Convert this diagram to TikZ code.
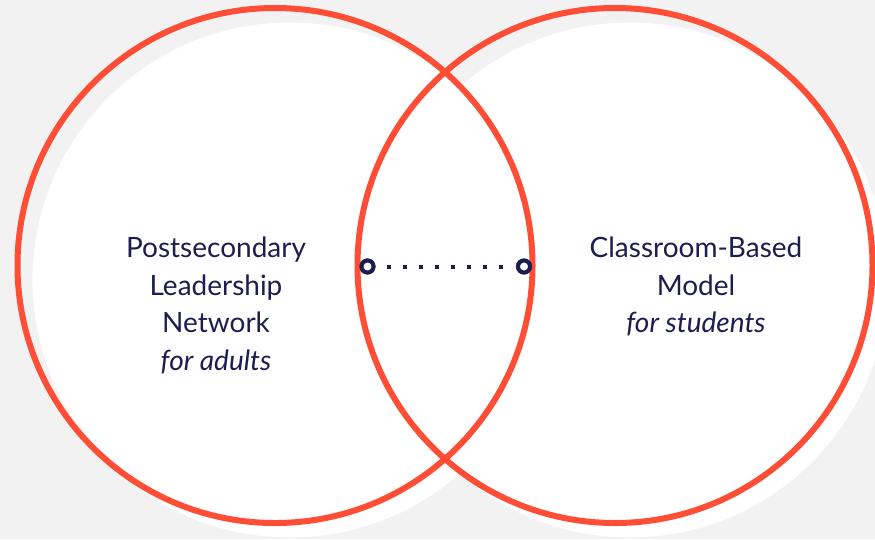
\documentclass[tikz,border=0pt]{standalone}
\usepackage{fontspec}
\setmainfont{Lato}
\definecolor{bg}{HTML}{F2F2F2}
\definecolor{ringred}{HTML}{FF4D36}
\definecolor{navy}{HTML}{1C1E4E}
\tikzset{
  shadowdisc/.style={fill=white},
  vennring/.style={draw=ringred, line width=6pt},
  label/.style={text=navy, font=\fontsize{28}{32}\selectfont, anchor=base, inner sep=0pt},
  endring/.style={circle, draw=navy, fill=white, line width=4pt, minimum size=12pt, inner sep=0pt},
  dotline/.style={draw=navy, line width=4pt, dash pattern=on 4pt off 12pt, dash phase=5pt, shorten >=8pt}
}
\begin{document}
\begin{tikzpicture}[x=1pt,y=-1pt]
\useasboundingbox (0,0) rectangle (875,539);
\fill[bg] (0,0) rectangle (875,539);
\clip (0,0) rectangle (875,539);
% offset white discs
\fill[shadowdisc] (290,280) circle[radius=257.5];
\fill[shadowdisc] (630,280) circle[radius=257.5];
% red outlines
\draw[vennring] (275,265.5) circle[radius=257.5];
\draw[vennring] (615,265.5) circle[radius=257.5];
% left texts
\node[label] (l1) at (216,257) {Postsecondary};
\node[label] (l2) at (216,295) {Leadership};
\node[label] (l3) at (216,332.5) {Network};
\node[label] (l4) at (216,370) {\itshape for adults};
% right texts
\node[label] (r1) at (696,257) {Classroom-Based};
\node[label] (r2) at (696,295) {Model};
\node[label] (r3) at (696,332.5) {\itshape for students};
% dotted connector
\node[endring] (ringL) at (367.5,266.5) {};
\node[endring] (ringR) at (524,266.5) {};
\draw[dotline] (ringL) -- (ringR);
\node[endring] at (ringL) {};
\node[endring] at (ringR) {};
\end{tikzpicture}
\end{document}
